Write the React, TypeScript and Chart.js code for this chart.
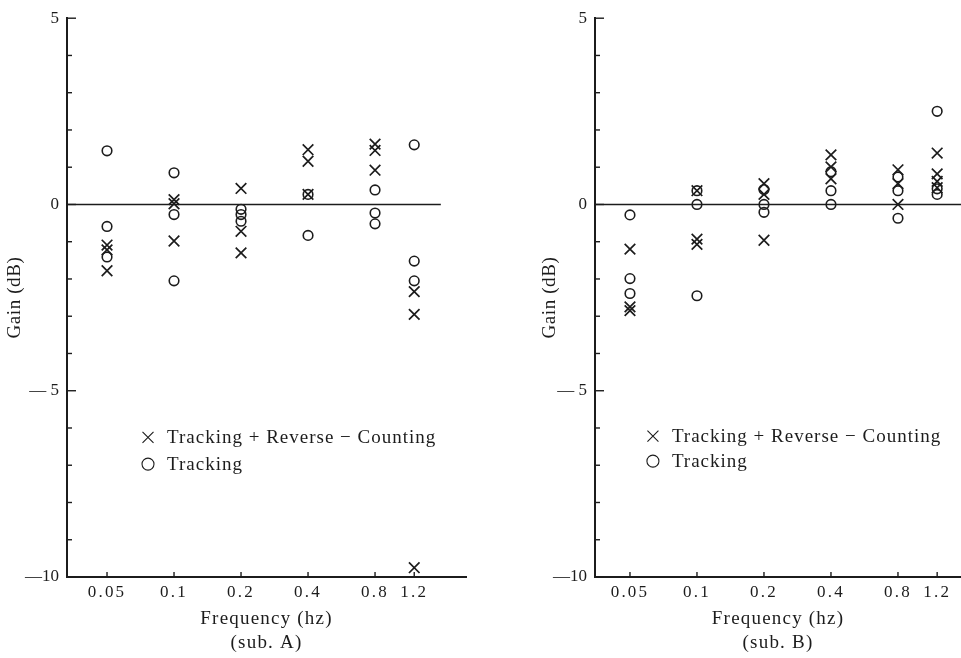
import React, { useEffect, useRef } from 'react';
import { Chart, registerables, LogarithmicScale, LinearScale } from 'chart.js';

Chart.register(...registerables);

// ---------- data ----------
const FREQS = [0.05, 0.1, 0.2, 0.4, 0.8, 1.2];
const X_TICKS = [0.05, 0.1, 0.2, 0.4, 0.8, 1.2];
const X_TICK_LABELS = ['0.05', '0.1', '0.2', '0.4', '0.8', '1.2'];
const Y_TICKS = [-10, -5, 0, 5];
const Y_TICK_LABELS = ['—10', '— 5', '0', '5'];

const LABEL_CROSS = 'Tracking + Reverse − Counting';
const LABEL_CIRCLE = 'Tracking';

// sub. A
const A_CROSS = [
  [-1.09, -1.22, -1.78],
  [0.13, 0.02, -0.98],
  [0.43, -0.72, -1.3],
  [1.47, 1.16, 0.27],
  [1.62, 1.45, 0.92],
  [-2.34, -2.95, -9.75],
];
const A_CIRCLE = [
  [1.44, -0.59, -1.41],
  [0.85, -0.27, -2.05],
  [-0.13, -0.27, -0.45],
  [0.27, -0.83],
  [0.39, -0.23, -0.52],
  [1.6, -1.52, -2.05],
];

// sub. B
const B_CROSS = [
  [-1.2, -2.75, -2.85],
  [0.37, -0.93, -1.07],
  [0.56, 0.27, -0.96],
  [1.33, 1.01, 0.69],
  [0.93, 0.56, 0],
  [1.38, 0.82, 0.62, 0.45],
];
const B_CIRCLE = [
  [-0.28, -1.99, -2.39],
  [0.37, 0, -2.45],
  [0.4, 0, -0.21],
  [0.88, 0.37, 0],
  [0.74, 0.37, -0.37],
  [2.5, 0.42, 0.27],
];

const INK = '#1c1c1c';
const FONT = "'Liberation Serif', 'Times New Roman', serif";

// ---------- scales with letter spacing ----------
class SpacedLogScale extends LogarithmicScale {
  static id = 'spacedLog';
  static defaults = LogarithmicScale.defaults;
  drawLabels(area: any) {
    const ctx: any = this.ctx;
    ctx.save();
    ctx.letterSpacing = (this.options as any).labelSpacing || '0px';
    super.drawLabels(area);
    ctx.restore();
  }
  drawTitle() {
    const ctx: any = this.ctx;
    ctx.save();
    ctx.letterSpacing = (this.options as any).titleSpacing || '0px';
    super.drawTitle();
    ctx.restore();
  }
}
class SpacedLinearScale extends LinearScale {
  static id = 'spacedLinear';
  static defaults = LinearScale.defaults;
  drawLabels(area: any) {
    const ctx: any = this.ctx;
    ctx.save();
    ctx.letterSpacing = (this.options as any).labelSpacing || '0px';
    super.drawLabels(area);
    ctx.restore();
  }
  drawTitle() {
    const ctx: any = this.ctx;
    ctx.save();
    ctx.letterSpacing = (this.options as any).titleSpacing || '0px';
    super.drawTitle();
    ctx.restore();
  }
}
Chart.register(SpacedLogScale as any, SpacedLinearScale as any);

// ---------- plugins ----------
const inwardTicks = {
  id: 'inwardTicks',
  afterDatasetsDraw(chart: any) {
    const { ctx, chartArea } = chart;
    const xs = chart.scales.x;
    const ys = chart.scales.y;
    ctx.save();
    ctx.strokeStyle = INK;
    ctx.lineWidth = 1.4;
    for (let v = -10; v <= 5; v += 1) {
      const py = ys.getPixelForValue(v);
      const len = v % 5 === 0 ? 9 : 5;
      ctx.beginPath();
      ctx.moveTo(chartArea.left, py);
      ctx.lineTo(chartArea.left + len, py);
      ctx.stroke();
    }
    X_TICKS.forEach((v) => {
      const px = xs.getPixelForValue(v);
      ctx.beginPath();
      ctx.moveTo(px, chartArea.bottom);
      ctx.lineTo(px, chartArea.bottom - 5);
      ctx.stroke();
    });
    ctx.restore();
  },
};

const panelLegend = {
  id: 'panelLegend',
  afterDatasetsDraw(chart: any, _args: any, opts: any) {
    if (!opts || !opts.rows) return;
    const { ctx } = chart;
    const xs = chart.scales.x;
    const ys = chart.scales.y;
    const sx = xs.getPixelForValue(opts.x);
    const items = chart.data.datasets.filter((d: any) => d.inLegend);
    ctx.save();
    ctx.strokeStyle = INK;
    ctx.fillStyle = INK;
    ctx.lineWidth = 1.1;
    ctx.font = `19px ${FONT}`;
    (ctx as any).letterSpacing = '1px';
    ctx.textBaseline = 'middle';
    ctx.textAlign = 'left';
    items.forEach((d: any, i: number) => {
      const py = ys.getPixelForValue(opts.rows[i]);
      ctx.beginPath();
      if (d.pointStyle === 'crossRot') {
        const r = 5.5;
        ctx.moveTo(sx - r, py - r);
        ctx.lineTo(sx + r, py + r);
        ctx.moveTo(sx + r, py - r);
        ctx.lineTo(sx - r, py + r);
      } else {
        ctx.arc(sx, py, 6, 0, Math.PI * 2);
      }
      ctx.stroke();
      ctx.fillText(d.label, sx + opts.gap, py + 1);
    });
    ctx.restore();
  },
};

function pts(freqs: number[], vals: number[][]) {
  const out: { x: number; y: number }[] = [];
  freqs.forEach((f, i) => vals[i].forEach((v) => out.push({ x: f, y: v })));
  return out;
}

type PanelCfg = {
  cross: number[][];
  circle: number[][];
  sub: string;
  xMin: number;
  xMax: number;
  zeroEnd: number;
  yAxisWidth: number;
  yTitlePad: number;
  padRight: number;
  legendX: number;
  legendRows: number[];
};

function makeConfig(p: PanelCfg): any {
  return {
    type: 'scatter',
    data: {
      datasets: [
        {
          label: 'zero',
          data: [
            { x: p.xMin, y: 0 },
            { x: p.zeroEnd, y: 0 },
          ],
          showLine: true,
          borderColor: INK,
          borderWidth: 1.6,
          pointRadius: 0,
        },
        {
          label: LABEL_CROSS,
          inLegend: true,
          data: pts(FREQS, p.cross),
          pointStyle: 'crossRot',
          pointRadius: 7.5,
          pointBorderWidth: 1.7,
          borderColor: INK,
          backgroundColor: INK,
          showLine: false,
        },
        {
          label: LABEL_CIRCLE,
          inLegend: true,
          data: pts(FREQS, p.circle),
          pointStyle: 'circle',
          pointRadius: 4.8,
          pointBorderWidth: 1.6,
          borderColor: INK,
          backgroundColor: 'rgba(0,0,0,0)',
          showLine: false,
        },
      ],
    },
    options: {
      responsive: false,
      animation: false,
      layout: { autoPadding: false, padding: { top: 14, bottom: 3, left: 0, right: p.padRight } },
      plugins: {
        legend: { display: false },
        tooltip: { enabled: false },
        panelLegend: { x: p.legendX, rows: p.legendRows, gap: 19 },
      },
      scales: {
        x: {
          type: 'spacedLog',
          min: p.xMin,
          max: p.xMax,
          labelSpacing: '2.2px',
          titleSpacing: '1.2px',
          afterBuildTicks: (s: any) => {
            s.ticks = X_TICKS.map((v) => ({ value: v }));
          },
          afterFit: (s: any) => {
            s.height = 78;
            s.paddingLeft = 0;
            s.paddingRight = 0;
          },
          grid: { display: false, drawTicks: false },
          border: { display: true, color: INK, width: 2 },
          ticks: {
            autoSkip: false,
            maxRotation: 0,
            minRotation: 0,
            padding: 5,
            color: INK,
            font: { family: FONT, size: 17 },
            callback: (_v: any, i: number) => X_TICK_LABELS[i],
          },
          title: {
            display: true,
            text: ['Frequency (hz)', p.sub],
            color: INK,
            padding: { top: 0, bottom: 0 },
            font: { family: FONT, size: 19, lineHeight: 1.263 },
          },
        },
        y: {
          type: 'spacedLinear',
          min: -10,
          max: 5,
          labelSpacing: '0px',
          titleSpacing: '0.6px',
          afterBuildTicks: (s: any) => {
            s.ticks = Y_TICKS.map((v) => ({ value: v }));
          },
          afterFit: (s: any) => {
            s.width = p.yAxisWidth;
          },
          grid: { display: false, drawTicks: false },
          border: { display: true, color: INK, width: 2 },
          ticks: {
            padding: 8,
            color: INK,
            font: { family: FONT, size: 17 },
            callback: (_v: any, i: number) => Y_TICK_LABELS[i],
          },
          title: {
            display: true,
            text: 'Gain (dB)',
            color: INK,
            padding: { top: p.yTitlePad, bottom: 0 },
            font: { family: FONT, size: 19, lineHeight: 1.2 },
          },
        },
      },
    },
    plugins: [inwardTicks, panelLegend],
  };
}

const PANEL_A: PanelCfg = {
  cross: A_CROSS,
  circle: A_CIRCLE,
  sub: '(sub. A)',
  xMin: 0.03305,
  xMax: 2.05,
  zeroEnd: 1.58,
  yAxisWidth: 67,
  yTitlePad: 3.6,
  padRight: 14,
  legendX: 0.0764,
  legendRows: [-6.25, -6.97],
};

const PANEL_B: PanelCfg = {
  cross: B_CROSS,
  circle: B_CIRCLE,
  sub: '(sub. B)',
  xMin: 0.03482,
  xMax: 1.5356,
  zeroEnd: 1.5356,
  yAxisWidth: 115,
  yTitlePad: 58.6,
  padRight: 0,
  legendX: 0.0634,
  legendRows: [-6.22, -6.89],
};

function Panel({ cfg, left, width }: { cfg: PanelCfg; left: number; width: number }) {
  const ref = useRef<HTMLCanvasElement | null>(null);
  useEffect(() => {
    if (!ref.current) return;
    const chart = new Chart(ref.current, makeConfig(cfg));
    return () => chart.destroy();
  }, [cfg]);
  return (
    <div style={{ position: 'absolute', left, top: 0, width, height: 658 }}>
      <canvas ref={ref} width={width} height={658} style={{ display: 'block' }} />
    </div>
  );
}

export default function App() {
  return (
    <div
      style={{
        position: 'fixed',
        left: 0,
        top: 0,
        width: 961,
        height: 658,
        background: '#ffffff',
        overflow: 'hidden',
      }}
    >
      <Panel cfg={PANEL_A} left={0} width={480} />
      <Panel cfg={PANEL_B} left={480} width={481} />
    </div>
  );
}
